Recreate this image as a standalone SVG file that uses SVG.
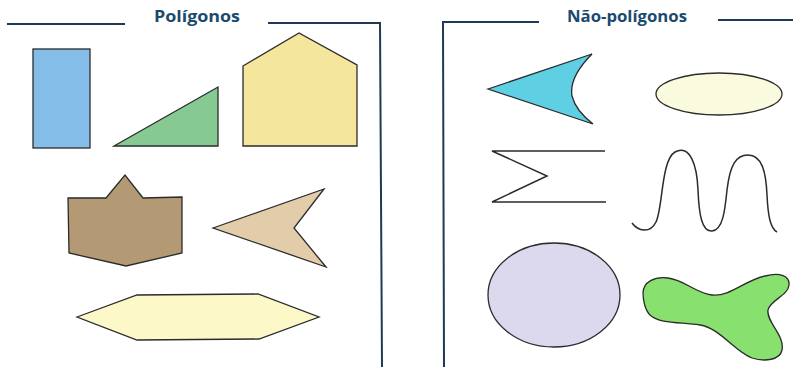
<svg xmlns="http://www.w3.org/2000/svg" width="793" height="367" viewBox="0 0 793 367">
<style>
.frame{fill:none;stroke:#1f3a55;stroke-width:2}
.title{font-family:"Open Sans","Liberation Sans",sans-serif;font-weight:bold;font-size:16px;fill:#1b4a6e}
.shape{stroke:#2b2b2b;stroke-width:1.3;stroke-linejoin:miter}
.line{fill:none;stroke:#2b2b2b;stroke-width:1.5}
</style>
<rect width="793" height="367" fill="#ffffff"/>
<g id="frames">
<polyline class="frame" points="7,24 125,24"/>
<polyline class="frame" points="268,23 380,23 382,367"/>
<polyline class="frame" points="539,22 443,22 444,367"/>
<polyline class="frame" points="718,20 793,20"/>
</g>
<g id="titles">
<text class="title" x="154" y="21.5" textLength="86" lengthAdjust="spacingAndGlyphs">Polígonos</text>
<text class="title" x="567" y="21.5" textLength="120" lengthAdjust="spacingAndGlyphs">Não-polígonos</text>
</g>
<g id="rectangle"><rect class="shape" x="33" y="49" width="57" height="99" fill="#85bde9"/></g>
<g id="triangle"><polygon class="shape" points="114,146 218,87 218,146" fill="#86c993"/></g>
<g id="pentagon"><polygon class="shape" points="243,66 299,33 357,65 357,146 243,146" fill="#f4e69c"/></g>
<g id="brown-polygon"><polygon class="shape" points="68,198 106,198 125,175 143,198 182,197 182,253 126,266 69,253" fill="#b39a74"/></g>
<g id="arrow-polygon"><polygon class="shape" points="213,228 324,189 294,228 326,267" fill="#e3ccaa"/></g>
<g id="hexagon"><polygon class="shape" points="77,317 137,295 258,294 319,317 259,339 137,340" fill="#fcf8c8"/></g>
<g id="curved-arrow"><path class="shape" d="M488,89 L592,54 C576,70 570,84 572,96 C575,108 584,117 593,124 Z" fill="#5fcfe4"/></g>
<g id="ellipse"><ellipse class="shape" cx="719" cy="94" rx="63" ry="21" fill="#fafade"/></g>
<g id="zigzag"><polyline class="line" points="605,151 492,151 547,176 492,202 606,202"/></g>
<g id="wave"><path class="line" d="M632,223 C638,231 650,234 656,222 C663,208 661,160 675,152 C690,144 697,165 698,190 C699,215 702,232 712,231 C723,230 725,210 727,190 C730,165 736,155 748,155 C762,155 766,172 767,195 C768,215 770,228 777,232"/></g>
<g id="oval"><ellipse class="shape" cx="554" cy="295" rx="66" ry="52" fill="#dcd9ee"/></g>
<g id="blob"><path class="shape" d="M643,293 C643,282 655,276 668,278 C685,280 695,293 712,295 C730,297 745,280 765,276 C780,272 790,276 789,285 C788,296 770,300 768,310 C766,322 785,335 782,350 C780,360 765,362 752,358 C735,352 720,328 700,325 C680,322 660,324 650,315 C645,310 643,300 643,293 Z" fill="#88e06f"/></g>
</svg>
